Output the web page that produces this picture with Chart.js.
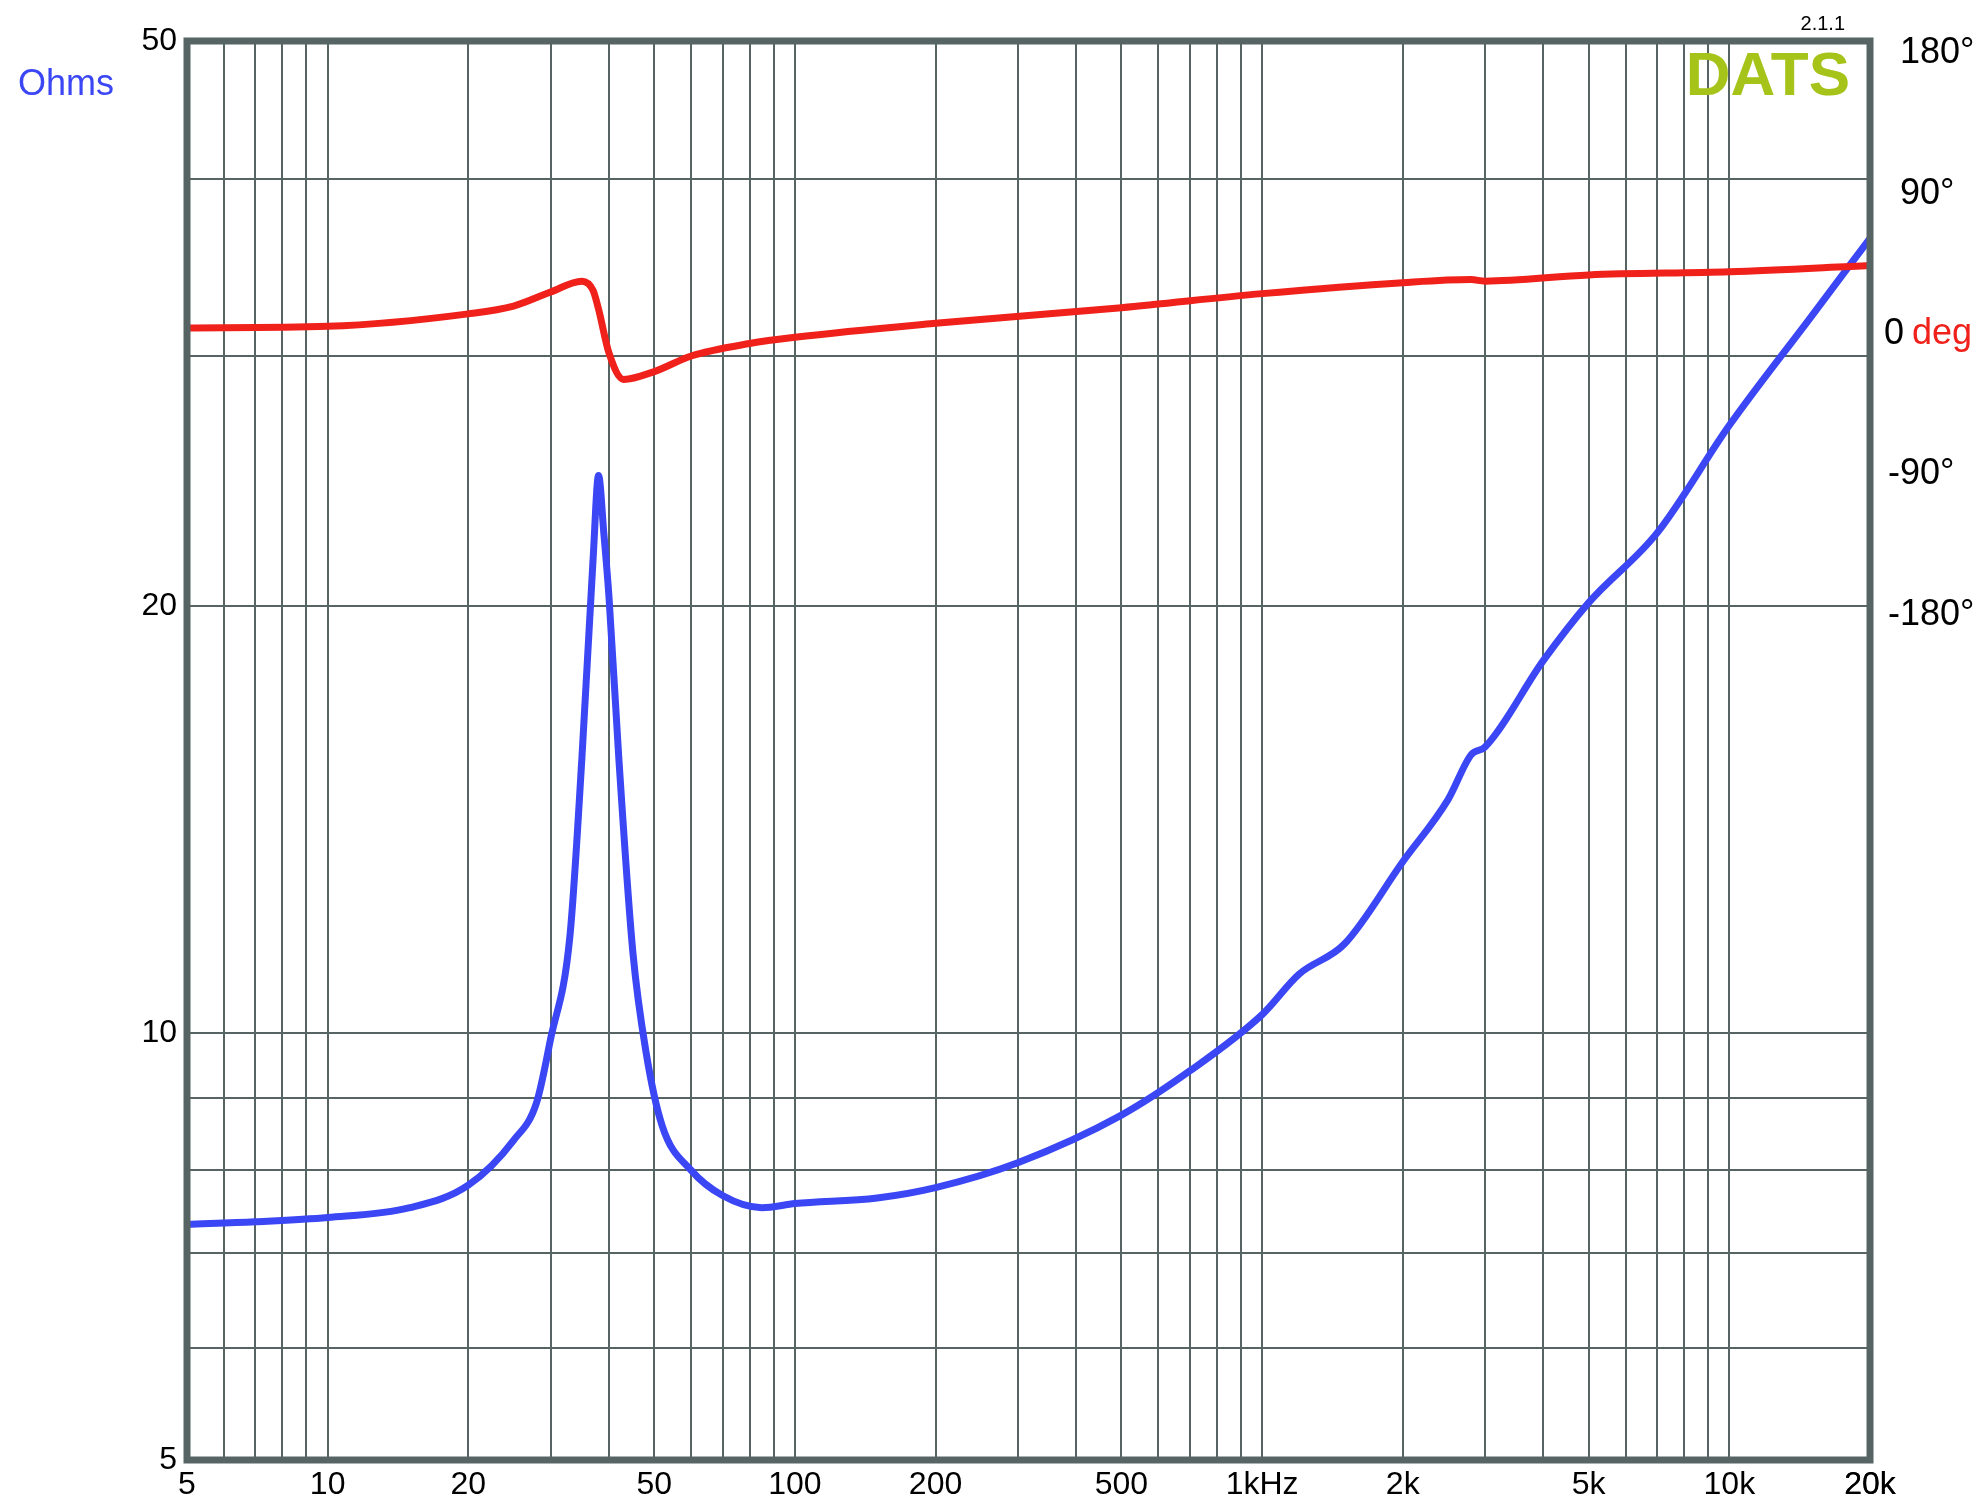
<!DOCTYPE html>
<html><head><meta charset="utf-8">
<script src="https://cdn.jsdelivr.net/npm/chart.js@4"></script>
<style>html,body{margin:0;background:#fff}#c{display:block}</style>
</head><body><canvas id="c" width="1980" height="1510" style="width:1980px;height:1510px"></canvas>
<script>
const freqHz = [5,7,10,15,20,25,28,30,33,35,37,38,39,40,42,45,48,52,60,70,85,100,150,200,300,500,700,1000,1200,1500,2000,2500,2800,3000,4000,5000,7000,10000,15000,20000];
const impedanceOhms = [7.33,7.36,7.41,7.53,7.81,8.4,8.93,9.9,11.7,15.6,21.6,24.7,22.5,20.3,15.6,11.4,9.7,8.6,8.0,7.68,7.53,7.58,7.65,7.78,8.1,8.75,9.4,10.3,11.0,11.55,13.2,14.6,15.7,15.9,18.3,20.1,22.5,26.8,32,36.3];
const phaseFreqHz = [5,10,20,25,30,35,37,38,40,43,50,60,80,100,200,500,1000,2000,2800,3000,5000,10000,20000];
const phaseDeg = [4,5,13,18,27,34,28,16,-12,-29,-24,-14,-6,-2,7,17,26,33,35,34,38,40,44];
const xTickLabels = {5:'5',10:'10',20:'20',50:'50',100:'100',200:'200',500:'500',1000:'1kHz',2000:'2k',5000:'5k',10000:'10k',20000:'20k'};
const yGrid = [5,6,7,8,9,10,20,30,40,50];
const yTickLabels = {5:'5',10:'10',20:'20',50:'50'};
const phaseLabels = [180,90,0,-90,-180];

const xGrid=[];for(let d=1;d<=10000;d*=10)for(let m=1;m<10;m++){const v=m*d;if(v>=5&&v<=20000)xGrid.push(v);}xGrid.push(20000);

const deco={id:'deco',afterDraw(ch){
 const c=ch.ctx,a=ch.chartArea,y2=ch.scales.y2;
 c.save();
 c.strokeStyle='#566464';c.lineWidth=7;c.strokeRect(a.left,a.top,a.right-a.left,a.bottom-a.top);
 c.font='36px "Liberation Sans", Arial';c.fillStyle='#3b46f5';c.textBaseline='middle';
 c.fillText('Ohms',18,85);
 c.textAlign='left';
 for(const p of phaseLabels){const y=y2.getPixelForValue(p);
  if(p===0){c.fillStyle='#000';c.fillText('0',1884,y);c.fillStyle='#f0201a';c.fillText('deg',1912,y);}
  else{c.fillStyle='#000';const t=p+'°';c.fillText(t,p>0?1900:1888,y);}
 }
 c.font='bold 62px "Liberation Sans", Arial';c.fillStyle='#a6c31a';c.textAlign='right';c.fillText('DATS',1850,78);
 c.font='20px "Liberation Sans", Arial';c.fillStyle='#000';c.fillText('2.1.1',1845,24);
 c.restore();}};

new Chart(document.getElementById('c'),{type:'line',
 data:{datasets:[
  {data:phaseFreqHz.map((f,i)=>({x:f,y:phaseDeg[i]})),yAxisID:'y2',borderColor:'#f0201a',borderWidth:7,pointRadius:0,cubicInterpolationMode:'monotone'},
  {data:freqHz.map((f,i)=>({x:f,y:impedanceOhms[i]})),yAxisID:'y',borderColor:'#3b46f5',borderWidth:7,pointRadius:0,cubicInterpolationMode:'monotone'}]},
 options:{responsive:false,animation:false,devicePixelRatio:1,
  layout:{padding:{top:41,right:0,left:0,bottom:0}},
  plugins:{legend:{display:false},tooltip:{enabled:false}},
  scales:{
   x:{type:'logarithmic',min:5,max:20000,afterBuildTicks:s=>{s.ticks=xGrid.map(v=>({value:v}))},
    afterFit:s=>{s.height=50},
    grid:{color:'#566464',lineWidth:2,drawTicks:false},border:{display:false},
    ticks:{autoSkip:false,maxRotation:0,padding:6,color:'#000',font:{size:32,family:'"Liberation Sans", Arial'},callback:v=>xTickLabels[v]||''}},
   y:{type:'logarithmic',min:5,max:50,afterBuildTicks:s=>{s.ticks=yGrid.map(v=>({value:v}))},
    afterFit:s=>{s.width=187},
    grid:{color:'#566464',lineWidth:2,drawTicks:false},border:{display:false},
    ticks:{autoSkip:false,padding:10,color:'#000',font:{size:32,family:'"Liberation Sans", Arial'},callback:v=>yTickLabels[v]||''}},
   y2:{type:'linear',position:'right',min:-722,max:188,afterFit:s=>{s.width=110},
    grid:{display:false},border:{display:false},ticks:{display:false}}
  }},
 plugins:[deco]});
</script></body></html>
